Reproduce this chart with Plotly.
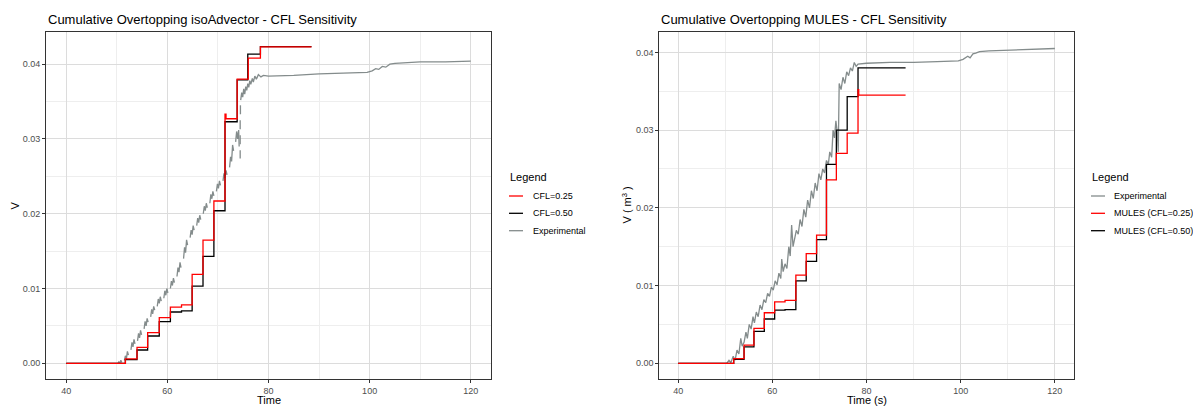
import plotly.graph_objects as go

W, H = 1193, 407

# ---------------- Left panel: isoAdvector ----------------
t_iso_025 = [40, 51.7, 54.0, 56.1, 58.4, 60.6, 62.8, 64.9, 67.05, 69.2, 71.4, 71.6, 73.8, 76.0, 78.4, 88.5]
v_iso_025 = [0, 0.0006, 0.00214, 0.0041, 0.0061, 0.0075, 0.0078, 0.0119, 0.01648, 0.0217, 0.0333, 0.0327, 0.0380, 0.0408, 0.0423, 0.0423]

t_iso_050 = [40, 51.7, 54.0, 56.1, 58.4, 60.6, 62.8, 64.9, 67.05, 69.2, 71.4, 73.8, 75.9, 78.4, 88.5]
v_iso_050 = [0, 0.0005, 0.00178, 0.00365, 0.00556, 0.00686, 0.0070, 0.01033, 0.0143, 0.0204, 0.0323, 0.0379, 0.04135, 0.04235, 0.04235]

# experimental record (None = missing samples, drawn as gaps)
t_exp_iso = [40, 50.2, 50.4, 50.6, 50.8, 51.0, None,
             51.5, 51.7, 51.9, 52.1, 52.3, None,
             52.8, 53.0, 53.2, 53.4, 53.6, None,
             54.1, 54.3, 54.5, 54.7, 54.9, None,
             55.4, 55.6, 55.8, 56.0, 56.2, None,
             56.7, 56.9, 57.1, 57.3, 57.5, None,
             58.0, 58.2, 58.4, 58.6, 58.8, None,
             59.3, 59.5, 59.7, 59.9, 60.1, None,
             60.6, 60.8, 61.0, 61.2, 61.4, None,
             61.9, 62.1, 62.3, 62.5, 62.7, None,
             63.2, 63.4, 63.6, 63.8, 64.0, None,
             64.5, 64.7, 64.9, 65.1, 65.3, None,
             65.8, 66.0, 66.2, 66.4, 66.6, None,
             67.1, 67.3, 67.5, 67.7, 67.9, None,
             68.4, 68.6, 68.8, 69.0, 69.2, None,
             69.7, 69.9, 70.1, 70.3, 70.5, None,
             71.0, 71.2, 71.4, 71.6, 71.8, None,
             72.3, 72.5, 72.7, 72.9, 73.1, None,
             73.5, 73.7, 73.9, 74.1, 74.2, None,
             74.4, 74.4, None,
             74.4, 74.4, None,
             74.4, 74.4, None,
             74.45, 74.45, None,
             74.5, 74.7, 74.9, 75.1, 75.3, 75.5, 75.7, 75.9, 76.1, 76.3, 76.5, 76.8, 77.0, 77.3, 77.6, 78.0, 78.5, 79.0,
             80, 85, 90, 95, 99.5, 100.5, 101.2, 101.8, 102.5, 103.2, 104, 105, 107, 110, 115, 120]
v_exp_iso = [0, 0, 0.0002, 0.0000, 0.0004, 0.0001, None,
             0.0004, 0.0010, 0.0006, 0.0016, 0.0011, None,
             0.0018, 0.0028, 0.0022, 0.0032, 0.0026, None,
             0.0030, 0.0040, 0.0034, 0.0044, 0.0038, None,
             0.0046, 0.0056, 0.0050, 0.0060, 0.0055, None,
             0.0062, 0.0072, 0.0066, 0.0076, 0.0071, None,
             0.0076, 0.0086, 0.0080, 0.0089, 0.0083, None,
             0.0087, 0.0097, 0.0091, 0.0100, 0.0094, None,
             0.0100, 0.0110, 0.0104, 0.0114, 0.0108, None,
             0.0116, 0.0128, 0.0122, 0.0135, 0.0128, None,
             0.0140, 0.0155, 0.0148, 0.0165, 0.0158, None,
             0.0168, 0.0178, 0.0172, 0.0184, 0.0178, None,
             0.0184, 0.0194, 0.0188, 0.0198, 0.0192, None,
             0.0200, 0.0210, 0.0204, 0.0214, 0.0208, None,
             0.0214, 0.0226, 0.0220, 0.0230, 0.0224, None,
             0.0230, 0.0240, 0.0234, 0.0244, 0.0238, None,
             0.0244, 0.0254, 0.0248, 0.0258, 0.0252, None,
             0.0262, 0.0276, 0.0270, 0.0292, 0.0284, None,
             0.0296, 0.0310, 0.0300, 0.0312, 0.0290, None,
             0.0274, 0.0285, None,
             0.0293, 0.0305, None,
             0.0313, 0.0325, None,
             0.0333, 0.0345, None,
             0.0352, 0.0362, 0.0356, 0.0367, 0.0360, 0.0370, 0.0365, 0.0374, 0.0369, 0.0378, 0.0373, 0.0381, 0.0376, 0.0384, 0.0380, 0.0386, 0.0383, 0.0385,
             0.0384, 0.0385, 0.0387, 0.0388, 0.0389, 0.0391, 0.0394, 0.0393, 0.0397, 0.0396, 0.0400, 0.0401, 0.0402, 0.0403, 0.0403, 0.0404]

# ---------------- Right panel: MULES ----------------
t_mul_025 = [40, 51.8, 54.0, 56.1, 58.3, 60.5, 62.7, 65.0, 67.2, 69.4, 71.5, 73.6, 75.9, 78.2, 78.35, 88.3]
v_mul_025 = [0, 0.0006, 0.00235, 0.0045, 0.0065, 0.0079, 0.0081, 0.01135, 0.0141, 0.0165, 0.0236, 0.0270, 0.0296, 0.0352, 0.0345, 0.0345]

t_mul_050 = [40, 51.8, 54.0, 56.1, 58.3, 60.5, 62.7, 65.0, 67.2, 69.4, 71.5, 73.6, 75.9, 78.2, 88.3]
v_mul_050 = [0, 0.0005, 0.0021, 0.0041, 0.0057, 0.00685, 0.0069, 0.0106, 0.0131, 0.0159, 0.0256, 0.0300, 0.0343, 0.0380, 0.0380]

t_exp_mul = [40, 50.3, 50.8, 51.2, 51.7, 52.1, 52.5, 52.9, 53.3, 53.6, 54.0, 54.4, 54.7, 55.1, 55.5, 55.9,
             56.2, 56.6, 57.0, 57.4, 57.8, 58.2, 58.6, 59.0, 59.4, 59.8, 60.2, 60.6, 61.0, 61.4, 61.8,
             62.0, 62.3, 62.7, 63.1, 63.5, 63.8, 64.1, 64.4, 64.8, 65.1, 65.5, 65.9, 66.3, 66.7, 67.1,
             67.5, 67.9, 68.3, 68.7, 69.1, 69.5, 69.9, 70.3, 70.7, 71.1, 71.5, 71.9, 72.2, 72.6, 72.9,
             73.2, 73.5, 73.8, 74.0, 74.2, 74.6, 75.0, 75.4, 75.8, 76.2, 76.6, 77.0, 77.4, 77.8, 78.2,
             80.0, 85.0, 90.0, 95.0, 99.5, 100.5, 101.5, 102.0, 102.6, 103.2, 104.0, 106.0, 110.0, 115.0, 120.0]
v_exp_mul = [0, 0, 0.0004, 0.0001, 0.0009, 0.0004, 0.0017, 0.0012, 0.0032, 0.0022, 0.0027, 0.0040, 0.0032, 0.0050, 0.0044, 0.0060,
             0.0052, 0.0066, 0.0060, 0.0075, 0.0069, 0.0082, 0.0078, 0.0090, 0.0086, 0.0098, 0.0094, 0.0106, 0.0101, 0.0116, 0.0109,
             0.0134, 0.0118, 0.0128, 0.0122, 0.0150, 0.0138, 0.0178, 0.0150, 0.0162, 0.0171, 0.0166, 0.0185, 0.0176, 0.0198, 0.0188,
             0.0210, 0.0200, 0.0222, 0.0212, 0.0232, 0.0222, 0.0244, 0.0236, 0.0250, 0.0245, 0.0261, 0.0256, 0.0272, 0.0265, 0.0300,
             0.0290, 0.0312, 0.0296, 0.0272, 0.0360, 0.0352, 0.0368, 0.0360, 0.0375, 0.0370, 0.0380, 0.0376, 0.0387, 0.0382, 0.0385,
             0.0386, 0.0387, 0.0387, 0.0388, 0.0389, 0.0391, 0.0395, 0.0393, 0.0398, 0.0399, 0.0401, 0.0402, 0.0403, 0.0404, 0.0405]

RED = "#ff0000"
BLACK = "#000000"
GREY = "#848c8c"
LW = 1.3
FONT = "Liberation Sans, Arial, Helvetica, sans-serif"

fig = go.Figure()
# left
fig.add_trace(go.Scatter(x=t_exp_iso, y=v_exp_iso, mode="lines", line=dict(color=GREY, width=LW),
                         connectgaps=False, xaxis="x", yaxis="y", showlegend=False, name="Experimental"))
fig.add_trace(go.Scatter(x=t_iso_050, y=v_iso_050, mode="lines", line=dict(color=BLACK, width=LW, shape="hv"),
                         xaxis="x", yaxis="y", showlegend=False, name="CFL=0.50"))
fig.add_trace(go.Scatter(x=t_iso_025, y=v_iso_025, mode="lines", line=dict(color=RED, width=LW, shape="hv"),
                         xaxis="x", yaxis="y", showlegend=False, name="CFL=0.25"))
# right
fig.add_trace(go.Scatter(x=t_exp_mul, y=v_exp_mul, mode="lines", line=dict(color=GREY, width=LW),
                         xaxis="x2", yaxis="y2", showlegend=False, name="Experimental"))
fig.add_trace(go.Scatter(x=t_mul_050, y=v_mul_050, mode="lines", line=dict(color=BLACK, width=LW, shape="hv"),
                         xaxis="x2", yaxis="y2", showlegend=False, name="MULES (CFL=0.50)"))
fig.add_trace(go.Scatter(x=t_mul_025, y=v_mul_025, mode="lines", line=dict(color=RED, width=LW, shape="hv"),
                         xaxis="x2", yaxis="y2", showlegend=False, name="MULES (CFL=0.25)"))

def px(x):
    return x / W

def py(y):
    return 1 - y / H

MAJ = "#dcdcdc"
MIN = "#eeeeee"
common_axis = dict(showline=True, mirror=True, linecolor="#333333", linewidth=1,
                   ticks="outside", ticklen=3, tickcolor="#333333", tickwidth=1,
                   tickfont=dict(size=9, color="#4d4d4d", family=FONT),
                   showgrid=True, gridcolor=MAJ, gridwidth=1, zeroline=False)

xgrid = dict(tick0=0, dtick=20, minor=dict(dtick=10, tick0=0, showgrid=True, gridcolor=MIN, gridwidth=0.6))
ygrid = dict(tick0=0, dtick=0.01, tickformat=".2f",
             minor=dict(dtick=0.005, tick0=0, showgrid=True, gridcolor=MIN, gridwidth=0.6))

ydom = [py(379), py(32)]
fig.update_layout(
    width=W, height=H, margin=dict(l=0, r=0, t=0, b=0),
    paper_bgcolor="white", plot_bgcolor="white",
    font=dict(family=FONT, color="black"),
    showlegend=False,
    xaxis=dict(domain=[px(46), px(491)], range=[36, 124], anchor="y", **common_axis, **xgrid),
    yaxis=dict(domain=ydom, range=[-0.0021, 0.0443], anchor="x", **common_axis, **ygrid),
    xaxis2=dict(domain=[px(659.3), px(1073.7)], range=[36, 124], anchor="y2", **common_axis, **xgrid),
    yaxis2=dict(domain=ydom, range=[-0.00202, 0.04262], anchor="x2", **common_axis, **ygrid),
)

ann = []
shapes = []
# titles
ann.append(dict(text="Cumulative Overtopping isoAdvector - CFL Sensitivity", x=px(46), y=py(19.5),
                xanchor="left", yanchor="middle", font=dict(size=13)))
ann.append(dict(text="Cumulative Overtopping MULES - CFL Sensitivity", x=px(659.3), y=py(19.5),
                xanchor="left", yanchor="middle", font=dict(size=13)))
# axis titles
ann.append(dict(text="Time", x=px(268.5), y=py(400), xanchor="center", yanchor="middle", font=dict(size=11)))
ann.append(dict(text="Time (s)", x=px(866.5), y=py(400), xanchor="center", yanchor="middle", font=dict(size=11)))
ann.append(dict(text="V", x=px(14), y=py(205.5), xanchor="center", yanchor="middle", textangle=-90, font=dict(size=11)))
ann.append(dict(text="V ( m<sup>3</sup> )", x=px(626), y=py(205.5), xanchor="center", yanchor="middle",
                textangle=-90, font=dict(size=11)))

# legends (ggplot-style keys)
legend_left = [("CFL=0.25", RED), ("CFL=0.50", BLACK), ("Experimental", GREY)]
legend_right = [("Experimental", GREY), ("MULES (CFL=0.25)", RED), ("MULES (CFL=0.50)", BLACK)]
rows = [196, 213.3, 230.7]
for (lx0, kx0, kx1, tx0, items) in [(508, 509, 523, 531, legend_left), (1090, 1091, 1105, 1112, legend_right)]:
    ann.append(dict(text="Legend", x=px(lx0), y=py(177), xanchor="left", yanchor="middle", font=dict(size=11)))
    for (label, col), ry in zip(items, rows):
        shapes.append(dict(type="line", xref="paper", yref="paper", x0=px(kx0), x1=px(kx1), y0=py(ry), y1=py(ry),
                           line=dict(color=col, width=LW)))
        ann.append(dict(text=label, x=px(tx0), y=py(ry), xanchor="left", yanchor="middle", font=dict(size=9)))

for a in ann:
    a.update(xref="paper", yref="paper", showarrow=False)
fig.update_layout(annotations=ann, shapes=shapes)

fig.write_html("out.html")
